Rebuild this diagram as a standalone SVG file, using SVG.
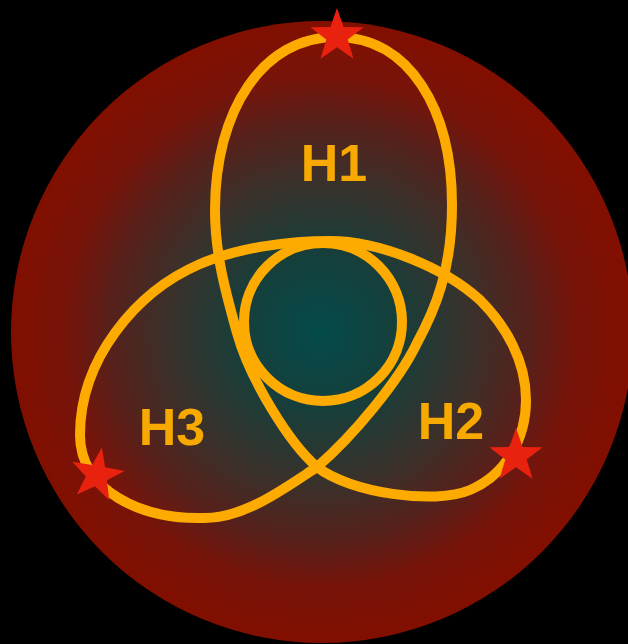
<svg xmlns="http://www.w3.org/2000/svg" width="628" height="644" viewBox="0 0 628 644">
  <defs>
    <radialGradient id="bg" gradientUnits="userSpaceOnUse" cx="320" cy="332" r="311">
      <stop offset="0" stop-color="#034b4b"/>
      <stop offset="0.25" stop-color="#163f3b"/>
      <stop offset="0.5" stop-color="#3c302a"/>
      <stop offset="0.68" stop-color="#58201a"/>
      <stop offset="0.82" stop-color="#77140a"/>
      <stop offset="1" stop-color="#820f00"/>
    </radialGradient>
    <polygon id="star" points="0,-28 6.6,-9.1 26.6,-8.7 10.7,3.5 16.5,22.7 0,11.3 -16.5,22.7 -10.7,3.5 -26.6,-8.7 -6.6,-9.1"/>
  </defs>
  <style>
    .knot { fill: none; stroke: #fdab00; stroke-width: 10; stroke-linejoin: round; }
    .star { fill: #e8220f; }
    .lbl { font-family: "Liberation Sans", Arial, sans-serif; font-weight: bold; font-size: 52px; fill: #f7a900; text-anchor: middle; }
  </style>
  <rect width="628" height="644" fill="#000"/>
  <circle id="background" cx="322" cy="332" r="311" fill="url(#bg)"/>
  <g id="connectors">
    <path class="knot" d="M336,37 C410,37 452,110 452,205 C452,270 435,310 417,343 C399,381 352,437 317,467 C285,488 245,518 205,518 C140,520 80,490 80,435 C80,360 135,292 200,264 C240,247 290,241 330,241 C380,241 445,268 480,300 C505,325 526,360 526,400 C526,440 505,475 470,490 C435,505 350,493 317,467 C290,444 250,380 237,333 C226,293 215,255 215,210 C215,110 263,37 336,37 Z"/>
    <circle class="knot" cx="323" cy="322" r="79"/>
  </g>
  <g id="H1">
    <text class="lbl" x="334" y="181">H1</text>
    <use href="#star" class="star" x="337" y="36"/>
  </g>
  <g id="H2">
    <text class="lbl" x="451" y="439">H2</text>
    <use href="#star" class="star" x="516" y="456"/>
  </g>
  <g id="H3">
    <text class="lbl" x="172" y="445">H3</text>
    <use href="#star" class="star" transform="translate(97,475) rotate(10)"/>
  </g>
</svg>
